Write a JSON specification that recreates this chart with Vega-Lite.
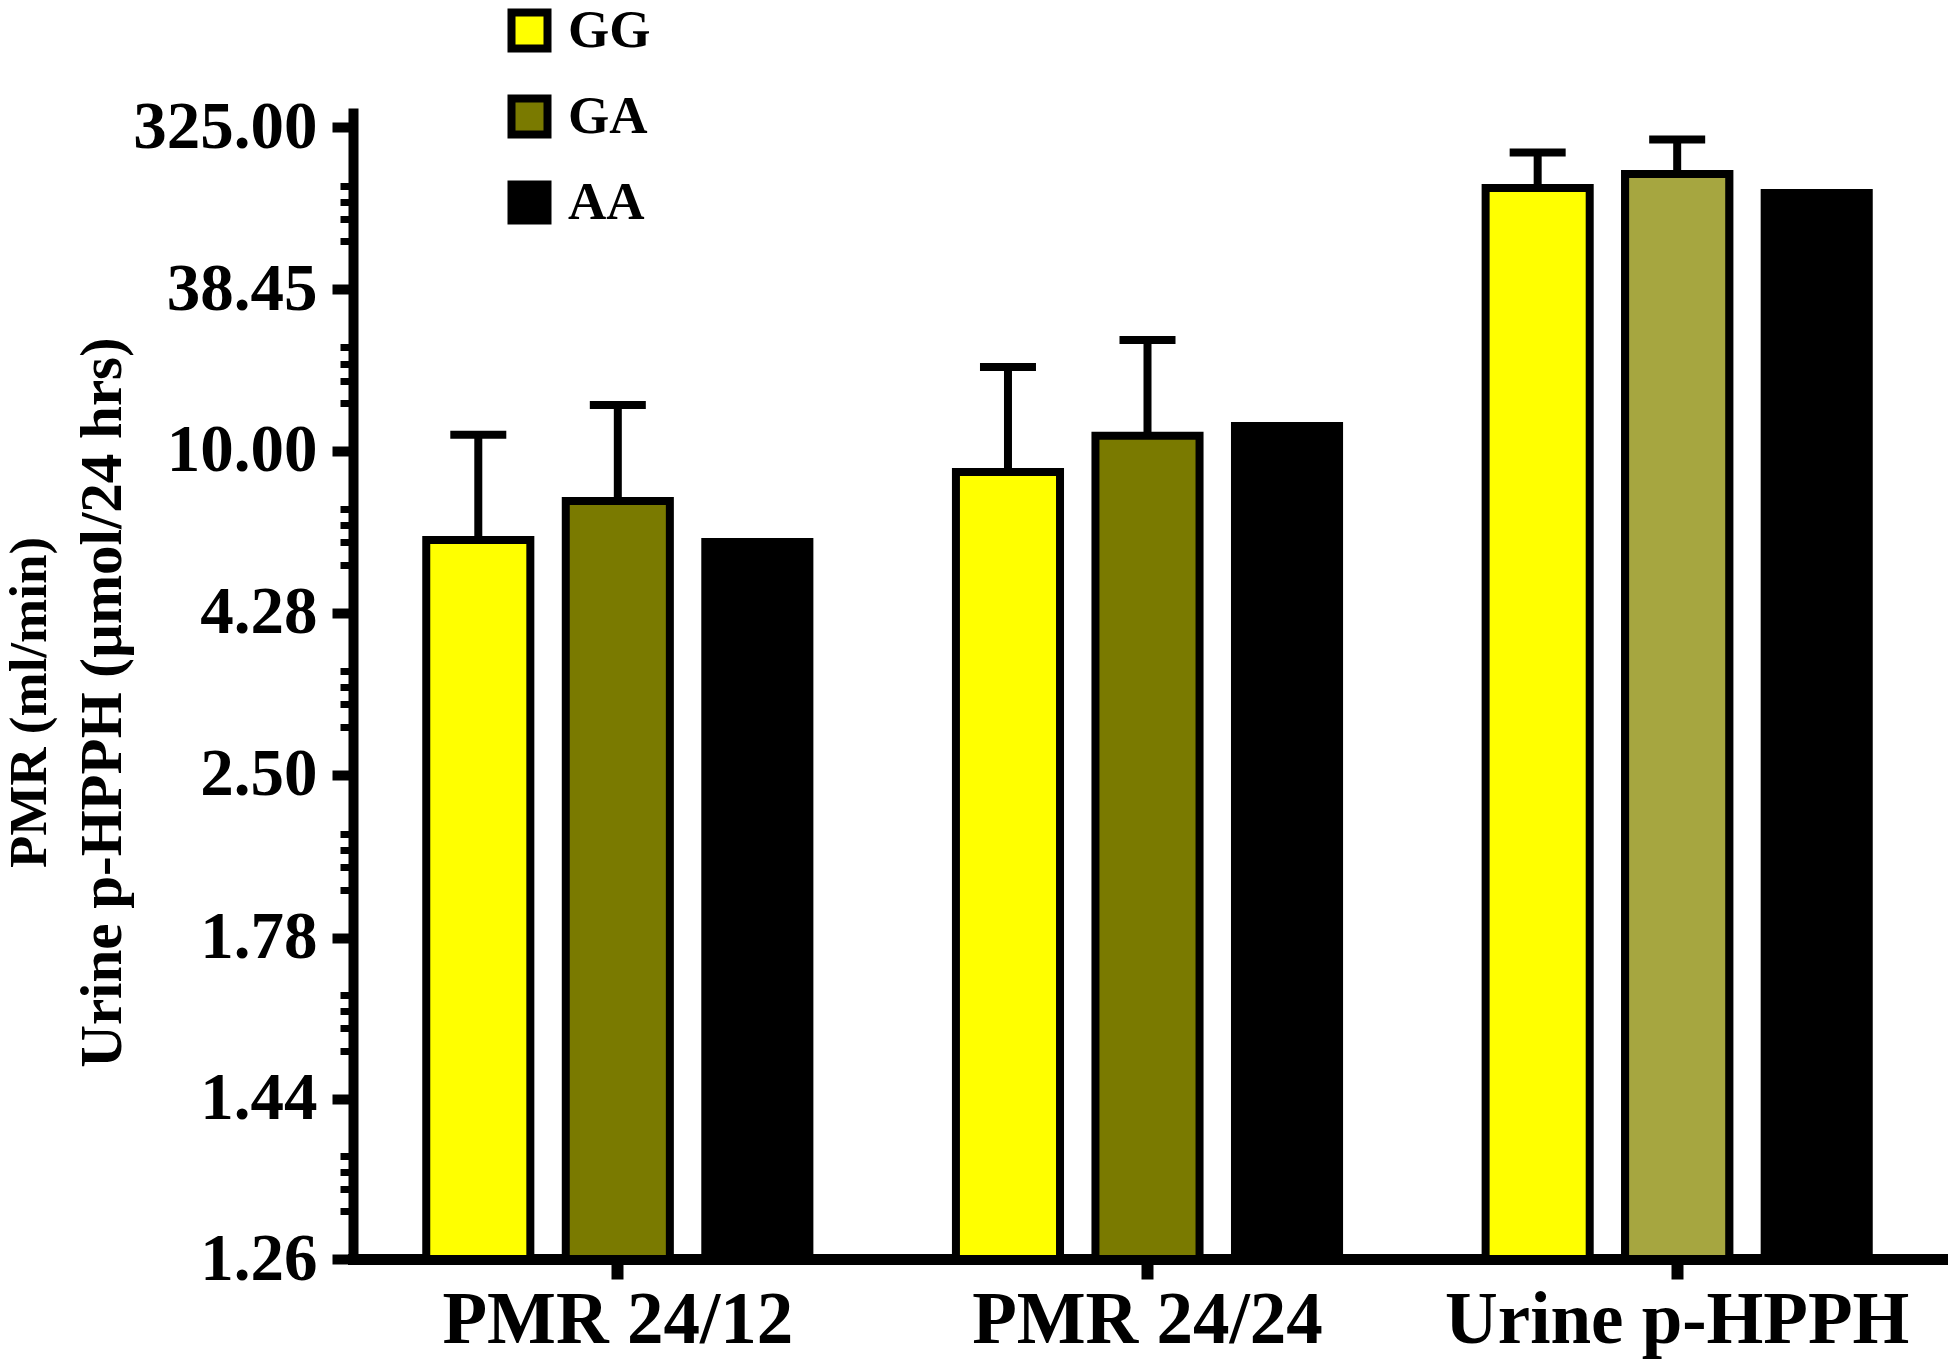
{
  "$schema": "https://vega.github.io/schema/vega-lite/v6.json",
  "width": 1589,
  "height": 1151,
  "autosize": "none",
  "padding": {"left": 353, "top": 108, "right": 7, "bottom": 109},
  "background": "white",
  "config": {"view": {"stroke": null}, "font": "Liberation Serif"},
  "title": {
    "text": "PMR (ml/min)",
    "subtitle": "Urine p-HPPH (µmol/24 hrs)",
    "orient": "left",
    "anchor": "middle",
    "frame": "group",
    "font": "Liberation Serif",
    "fontSize": 53,
    "fontWeight": "bold",
    "color": "black",
    "subtitleFont": "Liberation Serif",
    "subtitleFontSize": 59,
    "subtitleFontWeight": "bold",
    "subtitleColor": "black",
    "subtitlePadding": 17,
    "offset": 2,
    "dy": 2,
    "dx": -19
  },
  "data": {
    "values": [
      {"group": "PMR 24/12", "genotype": "GG", "mean": 5.97, "upper": 11.14},
      {"group": "PMR 24/12", "genotype": "GA", "mean": 7.37, "upper": 13.79},
      {"group": "PMR 24/12", "genotype": "AA", "mean": 5.91, "upper": null},
      {"group": "PMR 24/24", "genotype": "GG", "mean": 8.74, "upper": 18.6},
      {"group": "PMR 24/24", "genotype": "GA", "mean": 11.06, "upper": 23.5},
      {"group": "PMR 24/24", "genotype": "AA", "mean": 11.85, "upper": null},
      {"group": "Urine p-HPPH", "genotype": "GG", "mean": 129.7, "upper": 217.5},
      {"group": "Urine p-HPPH", "genotype": "GA", "mean": 158, "upper": 266},
      {"group": "Urine p-HPPH", "genotype": "AA", "mean": 121, "upper": null}
    ]
  },
  "transform": [
    {"calculate": "log(datum.mean)", "as": "ln_mean"},
    {"calculate": "datum.upper == null ? null : log(datum.upper)", "as": "ln_upper"}
  ],
  "encoding": {
    "x": {
      "field": "group",
      "type": "nominal",
      "sort": ["PMR 24/12", "PMR 24/24", "Urine p-HPPH"],
      "scale": {"paddingInner": 0.2767, "paddingOuter": 0.1383},
      "axis": {
        "title": null,
        "labelAngle": 0,
        "labelFont": "Liberation Serif",
        "labelFontSize": 73,
        "labelFontWeight": "bold",
        "labelColor": "black",
        "labelPadding": 5,
        "labelLimit": 1000,
        "tickSize": 20,
        "tickWidth": 12,
        "tickColor": "black",
        "domainWidth": 11,
        "domainColor": "black",
        "domainCap": "square"
      }
    },
    "xOffset": {
      "field": "genotype",
      "type": "nominal",
      "sort": ["GG", "GA", "AA"],
      "scale": {"paddingInner": 0.254, "paddingOuter": 0}
    }
  },
  "layer": [
    {
      "mark": {"type": "bar", "stroke": "black", "strokeWidth": 8},
      "encoding": {
        "y": {
          "field": "ln_mean",
          "type": "quantitative",
          "stack": null,
          "scale": {"type": "log", "domain": [0.231112, 6.108], "nice": false, "zero": false},
          "axis": {
            "title": null,
            "values": [0.231112, 0.26469, 0.2823, 0.29629, 0.31022, 0.364643, 0.41763, 0.44541, 0.46747, 0.48946, 0.576613, 0.6604, 0.70433, 0.73922, 0.77399, 0.916291, 1.04943, 1.11925, 1.17469, 1.22994, 1.453953, 1.66521, 1.776, 1.86397, 1.95164, 2.302585, 2.63716, 2.81261, 2.95191, 3.09076, 3.649359, 4.17961, 4.45769, 4.67848, 4.89843, 5.783825],
            "labelExpr": "indexof([0.231112,0.364643,0.576613,0.916291,1.453953,2.302585,3.649359,5.783825], datum.value) >= 0 ? format(exp(datum.value), '.2f') : ''",
            "labelFont": "Liberation Serif",
            "labelFontSize": 67,
            "labelFontWeight": "bold",
            "labelColor": "black",
            "labelPadding": 15,
            "labelLimit": 1000,
            "labelOverlap": false,
            "labelFlush": false,
            "labelBound": false,
            "tickSize": {"condition": {"test": "indexof([0.231112,0.364643,0.576613,0.916291,1.453953,2.302585,3.649359,5.783825], datum.value) >= 0", "value": 21}, "value": 13},
            "tickWidth": {"condition": {"test": "indexof([0.231112,0.364643,0.576613,0.916291,1.453953,2.302585,3.649359,5.783825], datum.value) >= 0", "value": 10}, "value": 7},
            "tickColor": "black",
            "domainWidth": 10,
            "domainColor": "black",
            "grid": false
          }
        },
        "y2": {"datum": 0.231112},
        "fill": {
          "field": "genotype",
          "type": "nominal",
          "sort": ["GG", "GA", "AA"],
          "scale": {"domain": ["GG", "GA", "AA"], "range": ["#ffff00", "#7a7a00", "#000000"]},
          "legend": {
            "title": null,
            "orient": "none",
            "legendX": 150,
            "legendY": -104,
            "direction": "vertical",
            "symbolType": "square",
            "symbolSize": 1296,
            "symbolStrokeColor": "black",
            "symbolStrokeWidth": 8,
            "symbolOpacity": 1,
            "labelFont": "Liberation Serif",
            "labelFontSize": 53,
            "labelFontWeight": "bold",
            "labelColor": "black",
            "labelOffset": 12,
            "rowPadding": 17,
            "padding": 0
          }
        }
      }
    },
    {
      "transform": [{"filter": "datum.group === 'Urine p-HPPH' && datum.genotype === 'GA'"}],
      "mark": {"type": "bar", "stroke": "black", "strokeWidth": 8, "fill": "#a6a640"},
      "encoding": {
        "y": {"field": "ln_mean", "type": "quantitative", "stack": null, "title": null},
        "y2": {"datum": 0.231112}
      }
    },
    {
      "transform": [{"filter": "datum.upper != null"}],
      "mark": {"type": "rule", "strokeWidth": 8, "color": "black"},
      "encoding": {
        "y": {"field": "ln_mean", "type": "quantitative", "title": null},
        "y2": {"field": "ln_upper"}
      }
    },
    {
      "transform": [{"filter": "datum.upper != null"}],
      "mark": {"type": "tick", "thickness": 8, "size": 56, "color": "black", "opacity": 1},
      "encoding": {
        "y": {"field": "ln_upper", "type": "quantitative", "title": null}
      }
    }
  ]
}
